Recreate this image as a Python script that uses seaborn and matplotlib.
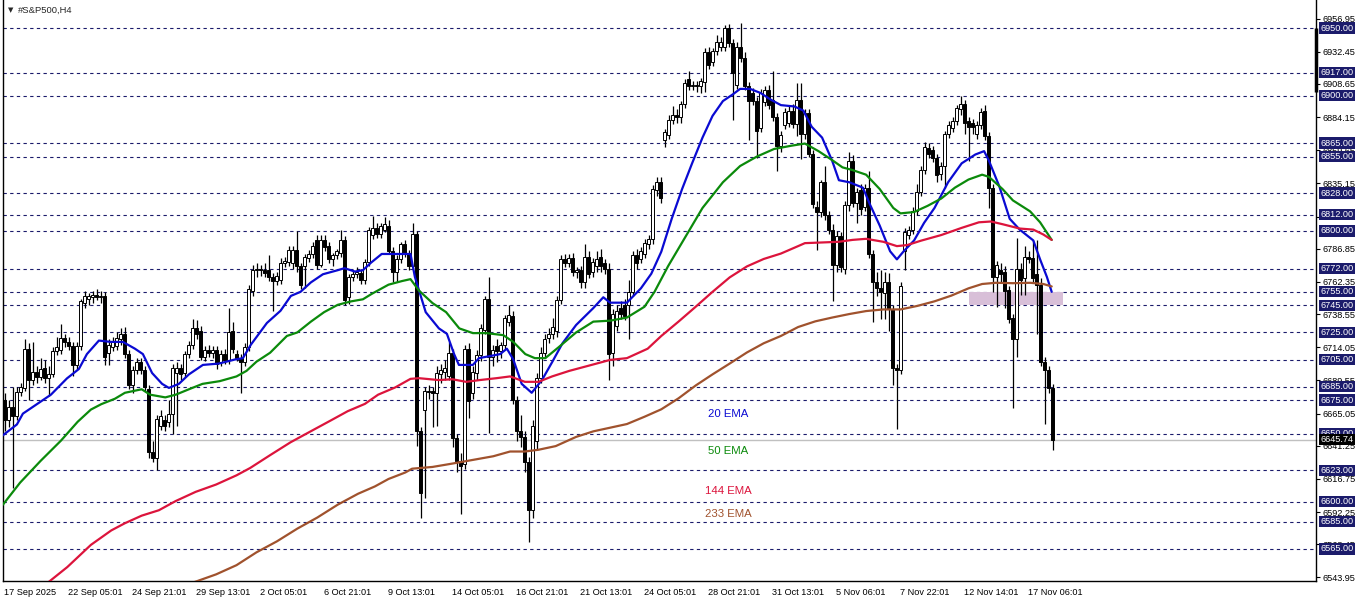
import numpy as np
import pandas as pd
import seaborn as sns
import matplotlib.pyplot as plt
from matplotlib.transforms import blended_transform_factory

# --- S&P500 H4 candles, bar 0 = 17 Sep 2025 ---
opens = [
    6675, 6660, 6670, 6663, 6681, 6684, 6713, 6690, 6696, 6692,
    6699, 6691, 6694, 6711, 6712, 6721, 6718, 6715, 6701, 6715,
    6747, 6750, 6751, 6753, 6751, 6752, 6710, 6714, 6715, 6720,
    6724, 6709, 6686, 6697, 6703, 6697, 6683, 6637, 6632, 6656,
    6660, 6659, 6665, 6695, 6699, 6695, 6709, 6716, 6728, 6726,
    6707, 6712, 6710, 6712, 6703, 6709, 6705, 6726, 6709, 6706,
    6703, 6714, 6756, 6771, 6772, 6771, 6771, 6766, 6763, 6764,
    6776, 6777, 6776, 6786, 6774, 6774, 6780, 6783, 6793, 6775,
    6793, 6789, 6779, 6782, 6784, 6793, 6751, 6766, 6768, 6769,
    6764, 6777, 6797, 6802, 6798, 6801, 6804, 6785, 6770, 6779,
    6790, 6783, 6774, 6798, 6652, 6668, 6682, 6682, 6680, 6694,
    6696, 6693, 6710, 6647, 6630, 6628, 6713, 6680, 6695, 6708,
    6727, 6750, 6707, 6715, 6711, 6716, 6733, 6737, 6675, 6652,
    6648, 6629, 6594, 6645, 6691, 6710, 6721, 6724, 6726, 6749,
    6779, 6776, 6780, 6770, 6771, 6762, 6781, 6770, 6774, 6781,
    6776, 6772, 6710, 6730, 6743, 6745, 6745, 6755, 6782, 6779,
    6783, 6790, 6794, 6830, 6836, 6867, 6871, 6882, 6886, 6884,
    6894, 6912, 6907, 6908, 6907, 6910, 6932, 6925, 6933, 6936,
    6936, 6950, 6939, 6908, 6936, 6928, 6907, 6902, 6896, 6876,
    6895, 6904, 6897, 6884, 6863, 6878, 6880, 6889, 6879, 6897,
    6872, 6887, 6857, 6818, 6814, 6836, 6812, 6801, 6775, 6796,
    6772, 6819, 6852, 6821, 6830, 6818, 6832, 6783, 6762, 6758,
    6754, 6762, 6742, 6699, 6697, 6785, 6797, 6801, 6815, 6829,
    6845, 6861, 6860, 6854, 6842, 6848, 6872, 6876, 6881, 6890,
    6894, 6881, 6880, 6872, 6878, 6889, 6870, 6832, 6766, 6771,
    6770, 6756, 6736, 6720, 6772, 6765, 6781, 6780, 6768, 6760,
    6703, 6697, 6684,
]
highs = [
    6680, 6675, 6685, 6685, 6688, 6720, 6717, 6718, 6700, 6706,
    6705, 6700, 6714, 6722, 6731, 6724, 6722, 6718, 6718, 6750,
    6756, 6754, 6756, 6757, 6756, 6755, 6720, 6722, 6725, 6728,
    6729, 6712, 6700, 6706, 6706, 6700, 6686, 6645, 6664, 6668,
    6664, 6675, 6702, 6703, 6702, 6711, 6719, 6735, 6734, 6730,
    6715, 6716, 6715, 6715, 6712, 6713, 6743, 6733, 6712, 6709,
    6717, 6760, 6775, 6776, 6775, 6776, 6782, 6769, 6770, 6780,
    6781, 6789, 6789, 6800, 6776, 6783, 6786, 6792, 6797, 6797,
    6797, 6792, 6784, 6787, 6801, 6796, 6768, 6771, 6773, 6772,
    6779, 6803, 6811, 6806, 6806, 6810, 6808, 6788, 6782, 6792,
    6793, 6786, 6806, 6800, 6655, 6685, 6686, 6685, 6700, 6702,
    6705, 6718, 6713, 6650, 6636, 6716, 6717, 6700, 6712, 6731,
    6752, 6766, 6716, 6720, 6718, 6738, 6745, 6741, 6678, 6664,
    6652, 6633, 6660, 6695, 6714, 6724, 6728, 6736, 6752, 6782,
    6783, 6783, 6784, 6773, 6774, 6790, 6785, 6780, 6785, 6787,
    6779, 6776, 6742, 6745, 6748, 6750, 6764, 6785, 6787, 6788,
    6794, 6797, 6834, 6840, 6840, 6875, 6886, 6892, 6890, 6896,
    6912, 6918, 6911, 6911, 6913, 6935, 6936, 6935, 6945, 6943,
    6952, 6953, 6942, 6940, 6954, 6932, 6910, 6906, 6899, 6905,
    6907, 6908, 6918, 6887, 6874, 6891, 6892, 6894, 6909, 6909,
    6890, 6890, 6860, 6822, 6838, 6848, 6815, 6805, 6800, 6799,
    6822, 6858, 6856, 6832, 6835, 6835, 6844, 6786, 6770, 6771,
    6770, 6769, 6745, 6702, 6762, 6802, 6804, 6818, 6835, 6848,
    6866, 6865, 6863, 6857, 6851, 6874, 6881, 6884, 6893, 6900,
    6897, 6884, 6883, 6881, 6891, 6893, 6873, 6835, 6778, 6776,
    6774, 6759, 6739, 6795, 6776, 6789, 6785, 6793, 6793, 6765,
    6707, 6700, 6687,
]
lows = [
    6652, 6655, 6610, 6660, 6678, 6682, 6675, 6686, 6688, 6690,
    6688, 6678, 6692, 6708, 6709, 6714, 6712, 6693, 6698, 6712,
    6743, 6745, 6747, 6749, 6747, 6701, 6701, 6711, 6712, 6716,
    6706, 6683, 6680, 6694, 6694, 6682, 6632, 6629, 6623, 6653,
    6652, 6655, 6650, 6656, 6690, 6692, 6706, 6713, 6720, 6705,
    6704, 6707, 6706, 6698, 6700, 6702, 6702, 6710, 6704, 6680,
    6700, 6711, 6752, 6766, 6767, 6766, 6763, 6741, 6760, 6761,
    6773, 6774, 6772, 6770, 6757, 6758, 6777, 6780, 6772, 6773,
    6785, 6776, 6774, 6779, 6781, 6745, 6746, 6763, 6765, 6761,
    6761, 6774, 6794, 6795, 6795, 6799, 6783, 6762, 6762, 6776,
    6781, 6771, 6771, 6641, 6588, 6603, 6676, 6655, 6656, 6688,
    6690, 6690, 6640, 6622, 6591, 6624, 6662, 6676, 6690, 6704,
    6724, 6651, 6700, 6703, 6706, 6713, 6730, 6672, 6645, 6640,
    6622, 6570, 6588, 6638, 6688, 6706, 6717, 6720, 6722, 6746,
    6773, 6773, 6767, 6765, 6758, 6758, 6765, 6766, 6770, 6770,
    6768, 6690, 6700, 6726, 6735, 6734, 6720, 6752, 6772, 6776,
    6780, 6787, 6790, 6826, 6821, 6862, 6868, 6879, 6880, 6880,
    6891, 6904, 6904, 6903, 6902, 6903, 6920, 6922, 6930, 6933,
    6933, 6936, 6882, 6905, 6925, 6904, 6867, 6893, 6854, 6873,
    6892, 6890, 6881, 6844, 6858, 6875, 6877, 6876, 6870, 6853,
    6868, 6855, 6817, 6786, 6810, 6808, 6798, 6748, 6770, 6770,
    6768, 6815, 6818, 6806, 6812, 6815, 6780, 6733, 6752, 6735,
    6735, 6726, 6686, 6654, 6694, 6771, 6794, 6798, 6812, 6826,
    6842, 6854, 6851, 6836, 6838, 6832, 6869, 6873, 6878, 6886,
    6872, 6852, 6872, 6868, 6875, 6867, 6817, 6755, 6744, 6762,
    6743, 6732, 6669, 6707, 6753, 6753, 6776, 6762, 6724, 6700,
    6657, 6680, 6638,
]
closes = [
    6660, 6670, 6663, 6681, 6685, 6713, 6690, 6696, 6692, 6698,
    6691, 6694, 6711, 6714, 6721, 6718, 6715, 6701, 6715, 6748,
    6752, 6752, 6753, 6751, 6752, 6707, 6716, 6718, 6721, 6724,
    6709, 6686, 6697, 6703, 6697, 6685, 6637, 6632, 6661, 6663,
    6656, 6665, 6699, 6699, 6694, 6709, 6716, 6728, 6724, 6707,
    6712, 6710, 6712, 6702, 6709, 6705, 6725, 6713, 6706, 6703,
    6714, 6757, 6771, 6772, 6771, 6769, 6766, 6763, 6767, 6776,
    6778, 6786, 6786, 6774, 6760, 6781, 6783, 6789, 6775, 6793,
    6788, 6779, 6782, 6785, 6793, 6749, 6766, 6768, 6770, 6764,
    6777, 6801, 6802, 6798, 6804, 6805, 6785, 6770, 6779, 6790,
    6783, 6774, 6798, 6652, 6606, 6682, 6681, 6680, 6695, 6697,
    6699, 6710, 6647, 6630, 6626, 6713, 6674, 6696, 6708, 6728,
    6750, 6707, 6712, 6711, 6716, 6736, 6738, 6675, 6652, 6648,
    6629, 6594, 6656, 6691, 6710, 6720, 6724, 6729, 6749, 6779,
    6776, 6780, 6770, 6771, 6762, 6781, 6768, 6777, 6779, 6774,
    6772, 6709, 6739, 6741, 6739, 6737, 6755, 6782, 6776, 6785,
    6791, 6794, 6831, 6836, 6824, 6873, 6882, 6886, 6884, 6894,
    6909, 6907, 6908, 6907, 6911, 6932, 6923, 6933, 6940, 6940,
    6950, 6939, 6917, 6936, 6928, 6907, 6896, 6896, 6874, 6902,
    6904, 6893, 6884, 6863, 6871, 6888, 6889, 6879, 6897, 6872,
    6887, 6857, 6820, 6814, 6836, 6812, 6801, 6775, 6796, 6773,
    6819, 6852, 6821, 6829, 6816, 6832, 6783, 6762, 6758, 6755,
    6762, 6742, 6699, 6697, 6759, 6799, 6801, 6815, 6829, 6845,
    6862, 6857, 6854, 6841, 6848, 6872, 6878, 6881, 6891, 6894,
    6880, 6877, 6877, 6878, 6888, 6870, 6832, 6766, 6775, 6768,
    6756, 6735, 6720, 6772, 6764, 6781, 6779, 6765, 6760, 6703,
    6697, 6684, 6645.74,
]

# --- moving averages, sampled along the chart (bar position, price) ---
ema20_bar = [-0.4, 3.1, 4.6, 7.6, 11.6, 15.6, 18.6, 20.6, 23.6, 26.6, 29.6, 32.6, 34.6,
             36.9, 39.4, 41.1, 43.6, 46.1, 49.6, 53.6, 57.6, 59.6, 61.6, 65.6, 69, 71.6,
             74, 76.6, 79.6, 83.3, 85, 87.6, 89.6, 91.6, 94.3, 96.6, 101.5, 102.6, 105.3,
             108.6, 110.6, 112.4, 113.6, 117.1, 118.6, 121.3, 123.9, 125.6, 127.2, 129.3,
             131.8, 134.4, 136.9, 139.5, 142.9, 147.2, 149.7, 151.4, 155.6, 159.1, 161.7,
             164.2, 166.8, 169.4, 171.9, 174.5, 177, 179.6, 182.1, 183.9, 186.4, 189, 191.6,
             194.1, 197.5, 199.7, 201.8, 204.4, 206.9, 208.6, 211.2, 214.6, 216.3, 218.8,
             221.4, 223.1, 224.8, 227.4, 229.9, 232.5, 235.9, 239.3, 242.7, 244.9, 246.1,
             248.7, 251.3, 253.8, 257.2, 258.9, 260.6, 261.8]
ema20_val = [6649, 6657, 6665, 6671, 6679, 6691, 6698, 6709, 6719, 6718, 6718, 6713, 6709,
             6695, 6687, 6684, 6687, 6694, 6701, 6702, 6705, 6706, 6716, 6732, 6741, 6752,
             6755, 6762, 6768, 6771, 6772.5, 6770, 6771, 6776.5, 6783, 6783, 6783, 6766, 6740,
             6728, 6724, 6709, 6701, 6701, 6706, 6707.5, 6709, 6713, 6705, 6687,
             6680.4, 6690, 6703, 6717, 6730.5, 6743, 6751, 6747, 6747, 6757.6, 6768.4,
             6784.7, 6809, 6831, 6850, 6869, 6885, 6896, 6901, 6905, 6905, 6902, 6897,
             6893, 6892, 6889, 6877, 6869, 6852, 6837.5, 6836, 6832, 6820, 6804,
             6785, 6779, 6785, 6793, 6806, 6817, 6836, 6850, 6856.5, 6859, 6852,
             6833, 6809, 6801, 6793, 6779, 6766, 6755]

ema50_bar = [-0.4, 3.9, 9, 14.1, 18.3, 21.6, 24.2, 27.6, 30.1, 34.3, 36.4, 40.2, 42.8, 46.1,
             49.5, 53.8, 58, 60.5, 63, 66.4, 70.6, 73.2, 76.6, 79.9, 83.3, 86.7, 89.6, 91.8,
             96, 99.4, 101.5, 103.6, 107, 110.4, 113.7, 117.1, 120.5, 124.7, 127.2, 130.2,
             132.6, 135.2, 138.5, 142.9, 147.2, 151.4, 155.6, 160, 162.5, 165.9, 170.2,
             174.5, 179.6, 183.9, 188.1, 192.4, 196.7, 200.1, 203.5, 206.9, 209.5, 212,
             215.4, 218.8, 222.2, 224, 227.4, 230.8, 234.2, 237.6, 241, 244.4, 246.1, 249.5,
             252.1, 256.4, 258.9, 261.8]
ema50_val = [6597.7, 6614, 6630, 6645, 6659, 6668, 6672, 6676, 6680.4, 6683, 6679, 6677, 6679,
             6683, 6687, 6689, 6692.5, 6696.6, 6703.4, 6710, 6722.4, 6725, 6733, 6740, 6745.4,
             6748, 6749.5, 6753.5, 6760.3, 6763, 6764.4, 6756, 6746.7, 6740, 6728, 6724.5,
             6724.5, 6723, 6718, 6709, 6706, 6706, 6714, 6725, 6733, 6733.7, 6736, 6744,
             6755, 6774, 6795.5, 6817, 6836, 6848, 6855, 6860.6, 6863, 6864.6, 6859, 6852.4,
             6847, 6845, 6841.6, 6831, 6817, 6813, 6814, 6818.6, 6824, 6832, 6838, 6841.6,
             6840, 6831, 6822.6, 6814.5, 6806.4, 6793.4]

ema144_bar = [10.8, 15.7, 21.6, 26.7, 30.1, 34.3, 38.6, 42.8, 47.8, 52.9, 58, 61.4, 66.4,
              71.5, 76.6, 81.6, 85.8, 90.1, 93.4, 97.7, 101.5, 103.6, 108.6, 112, 115.4,
              118.8, 123, 126.4, 130.1, 133.5, 136.9, 141.2, 145.5, 151.4, 155.6, 160.8,
              164.2, 168.5, 172.8, 177, 181.3, 185.6, 189.8, 194.1, 198.4, 200.1, 204.4,
              208.6, 212, 215.4, 219.7, 223.1, 225.7, 229.1, 234.2, 239.3, 243.6, 246.6,
              249.5, 253.8, 257.2, 259.7, 261.8]
ema144_val = [6540, 6551.6, 6568, 6578.7, 6584, 6589.6, 6593.6, 6600.4, 6607.2, 6612.6,
              6619.4, 6624.8, 6634.3, 6643.8, 6652, 6660, 6666.8, 6672.2, 6679, 6684.4,
              6690.7, 6691.2, 6689.8, 6690.4, 6688.5, 6689.8, 6691.2, 6692.5, 6688.5, 6688.5,
              6692.5, 6696.6, 6700, 6704.7, 6706, 6713, 6722.4, 6733, 6744, 6755, 6765.7,
              6773.8, 6779.3, 6783.3, 6788.8, 6791, 6791.5, 6792, 6793.4, 6794.2, 6792,
              6788.8, 6789.6, 6792.8, 6797, 6802.3, 6806.4, 6807, 6805, 6801.8, 6801,
              6797.4, 6793.4]

ema233_bar = [47, 52.9, 58, 63, 68.1, 73.2, 78.2, 83.3, 88.4, 92.6, 96, 100.2, 101.9, 107,
              112, 117.1, 122.2, 126.4, 130.1, 133.5, 137.8, 142.9, 147.2, 151.4, 155.6, 160,
              164.2, 168.5, 172.8, 177, 181.3, 185.6, 189.8, 194.1, 198.4, 202.7, 206.9,
              211.2, 215.4, 219.7, 224, 228.2, 232.5, 236.7, 241, 244.4, 247.8, 252.1,
              256.4, 259.7, 261.8]
ema233_val = [6540, 6546.2, 6553, 6562.5, 6570.6, 6580, 6588.2, 6597.7, 6605.8, 6611.2,
              6616.7, 6621.5, 6624.3, 6625.6, 6628.1, 6630.8, 6633.5, 6637, 6637, 6638.3,
              6641, 6647.8, 6651.9, 6654.6, 6657.3, 6662.7, 6668.2, 6676.3, 6685.8, 6694,
              6702, 6710.2, 6717, 6722.4, 6729, 6733.2, 6736, 6738.6, 6740.8, 6742, 6742,
              6744.6, 6748, 6752.2, 6757.6, 6760.8, 6761.7, 6761.4, 6761.7, 6760.8, 6759]

# horizontal levels drawn on the chart
levels = [6950, 6917, 6900, 6865, 6855, 6828, 6812, 6800, 6772, 6755, 6745, 6725,
          6705, 6685, 6675, 6650, 6623, 6600, 6585, 6565]
price_ticks = [6956.95, 6932.45, 6908.65, 6884.15, 6859.65, 6835.15, 6810.65, 6786.85,
               6762.35, 6738.55, 6714.05, 6689.55, 6665.05, 6641.25, 6616.75, 6592.25,
               6568.45, 6543.95]
# scale labels that sit completely under a level box in the original
hidden_ticks = [6810.65]
time_labels = ['17 Sep 2025', '22 Sep 05:01', '24 Sep 21:01', '29 Sep 13:01', '2 Oct 05:01',
               '6 Oct 21:01', '9 Oct 13:01', '14 Oct 05:01', '16 Oct 21:01', '21 Oct 13:01',
               '24 Oct 05:01', '28 Oct 21:01', '31 Oct 13:01', '5 Nov 06:01', '7 Nov 22:01',
               '12 Nov 14:01', '17 Nov 06:01']
zone_bars = (241, 264.5)
zone_prices = (6745, 6755)

NAVY = '#1b1b6b'
ema_names = ['20 EMA', '50 EMA', '144 EMA', '233 EMA']
ema_colors = ['#0a0ad2', '#0b8a0b', '#dc143c', '#a0522d']

sns.set_style('white')
plt.rcParams['font.family'] = ['Liberation Sans', 'DejaVu Sans']

assert len(opens) == len(highs) == len(lows) == len(closes), (len(opens), len(highs), len(lows), len(closes))
df = pd.DataFrame({'open': opens, 'high': highs, 'low': lows, 'close': closes})
df['bar'] = np.arange(len(df))
up = df['close'] >= df['open']

fig = plt.figure(figsize=(13.62, 6.03), dpi=100)
ax = fig.add_axes([3 / 1362, 22 / 603, 1313 / 1362, 581 / 603])
ax.set_xlim(-0.375, 327.875)
ax.set_ylim(6541.3, 6970.7)

# level lines + current price line
for lv in levels:
    ax.axhline(lv, color=NAVY, lw=0.8, dashes=(3, 3), zorder=1)
last = closes[-1]
ax.axhline(last, color='#c0c0c0', lw=1, zorder=1.5)

# support zone
ax.fill_between(zone_bars, zone_prices[0], zone_prices[1], color='#d8bfd8', lw=0, zorder=2)

# candles
ax.vlines(df['bar'], df['low'], df['high'], color='black', lw=0.9, zorder=3)
body_lo = np.minimum(df['open'], df['close'])
body_h = np.maximum((df['close'] - df['open']).abs(), 0.4)
ax.bar(df['bar'], body_h, bottom=body_lo, width=0.62,
       color=np.where(up, 'white', 'black'), edgecolor='black', linewidth=0.7, zorder=3.5)

# EMAs
ema_df = pd.concat([
    pd.DataFrame({'bar': ema20_bar, 'price': ema20_val, 'ema': '20 EMA'}),
    pd.DataFrame({'bar': ema50_bar, 'price': ema50_val, 'ema': '50 EMA'}),
    pd.DataFrame({'bar': ema144_bar, 'price': ema144_val, 'ema': '144 EMA'}),
    pd.DataFrame({'bar': ema233_bar, 'price': ema233_val, 'ema': '233 EMA'}),
])
sns.lineplot(data=ema_df, x='bar', y='price', hue='ema', hue_order=ema_names,
             palette=ema_colors, estimator=None, sort=False, linewidth=1.6,
             legend=False, ax=ax, zorder=4)

label_y = [6664.8, 6637.4, 6607.8, 6590.8]
for name, col, yv in zip(ema_names, ema_colors, label_y):
    ax.text(181, yv, name, color=col, fontsize=8.2, ha='center', va='center', zorder=5)

# axes styling
for side in ['left', 'right', 'bottom']:
    ax.spines[side].set_color('black')
    ax.spines[side].set_linewidth(1)
ax.spines['top'].set_visible(False)
ax.set_xlabel('')
ax.set_ylabel('')

ax.yaxis.tick_right()
ax.set_yticks(price_ticks)
ax.set_yticklabels(['' if v in hidden_ticks else f'{v:.2f}' for v in price_ticks])
ax.tick_params(axis='y', direction='out', length=3, width=0.8, pad=1.5, labelsize=6.6,
               colors='black')

ax.set_xticks(np.arange(len(time_labels)) * 16)
ax.set_xticklabels(time_labels)
ax.tick_params(axis='x', direction='out', length=3, width=0.8, pad=2, labelsize=6.6,
               colors='black')
plt.setp(ax.get_xticklabels(), ha='left')

trans = blended_transform_factory(ax.transAxes, ax.transData)
for lv in levels:
    ax.text(1.0035, lv, f'{lv:.2f}', transform=trans, ha='left', va='center', fontsize=6.6,
            color='white', clip_on=False, zorder=6,
            bbox=dict(boxstyle='square,pad=0.12', fc=NAVY, ec='none'))
ax.text(1.0035, last, f'{last:.2f}', transform=trans, ha='left', va='center', fontsize=6.6,
        color='white', clip_on=False, zorder=7,
        bbox=dict(boxstyle='square,pad=0.12', fc='black', ec='none'))
ax.plot([1.0, 1.0], [6950, 6903], transform=trans, color='black', lw=2.5,
        solid_capstyle='butt', clip_on=False, zorder=6)

fig.text(8 / 1362, 1 - 10 / 603, '\u25bc', fontsize=5, va='center', family='DejaVu Sans')
fig.text(18 / 1362, 1 - 10 / 603, '#S&P500,H4', fontsize=6.8, va='center')

fig.savefig('out.png', dpi=100)
